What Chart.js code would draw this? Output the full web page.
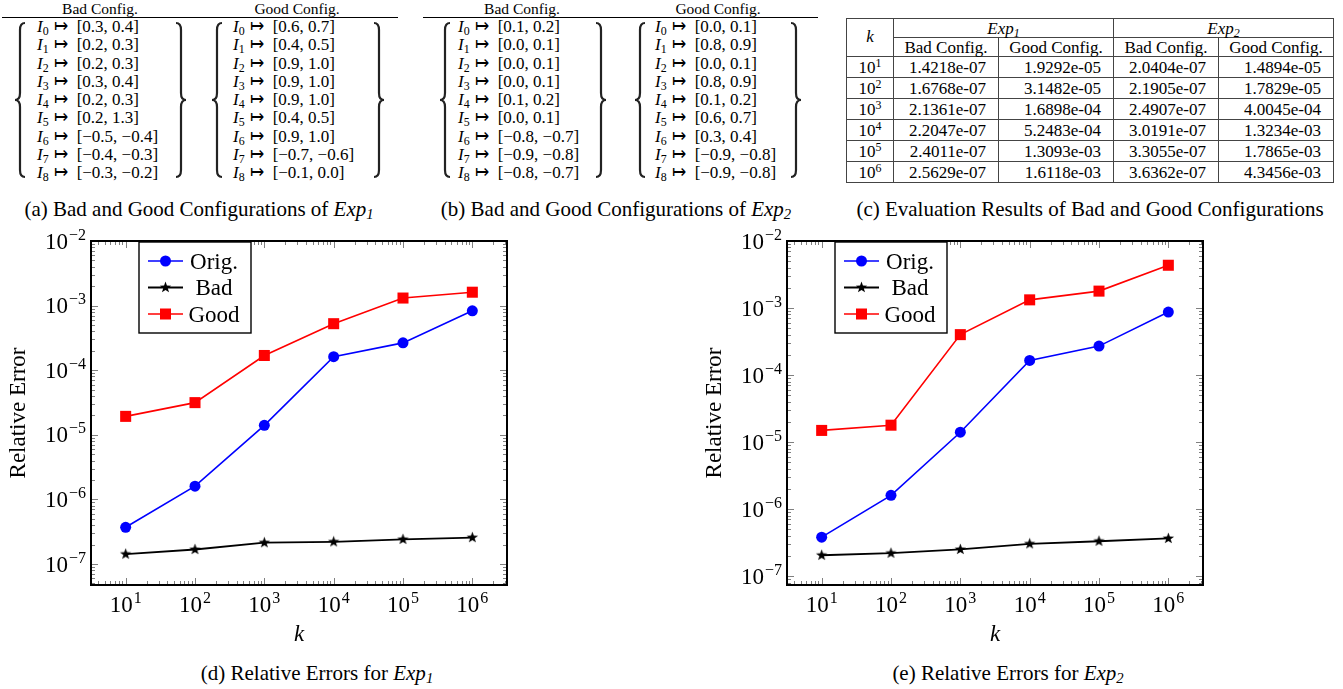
<!DOCTYPE html>
<html>
<head>
<meta charset="utf-8">
<title>Relative errors of bad and good configurations</title>
<script src="https://cdn.jsdelivr.net/npm/chart.js@4.4.1/dist/chart.umd.min.js"></script>
<style>
  html, body { margin: 0; padding: 0; background: #fff; }
  body { position: relative; width: 1343px; height: 689px; overflow: hidden;
         font-family: "Liberation Serif", "Times New Roman", serif; color: #000; }
  .head { position: absolute; top: 0; font-size: 15.5px; line-height: 17px; white-space: nowrap; transform: translateX(-50%); }
  .rule { position: absolute; top: 17px; height: 1px; background: #000; }
  .rows { position: absolute; top: 18px; font-size: 17px; line-height: 18.25px; white-space: nowrap; }
  .rows .to { margin: 0 9px 0 5px; }
  .cap { position: absolute; font-size: 21px; white-space: nowrap; transform: translate(-50%, -50%); }
  sub { font-size: 70%; vertical-align: -0.25em; line-height: 0; }
  sup { font-size: 70%; vertical-align: 0.5em; line-height: 0; }
  svg.braces { position: absolute; left: 0; top: 0; }
  table.res { position: absolute; left: 846px; top: 18px; border-collapse: collapse; table-layout: fixed; font-size: 17px; }
  table.res td { border: 1px solid #444; padding: 0 12px 0 0; text-align: right; line-height: 1; white-space: nowrap; }
  table.res td.c { text-align: center; padding: 0; }
  canvas { position: absolute; }
</style>
</head>
<body>

<div class="head" style="left:100px">Bad Config.</div>
<div class="head" style="left:297px">Good Config.</div>
<div class="rule" style="left:2px;width:396px"></div>
<div class="rows" id="cfg1Bad" style="left:37px"></div>
<div class="rows" id="cfg1Good" style="left:233px"></div>

<div class="head" style="left:522px">Bad Config.</div>
<div class="head" style="left:718px">Good Config.</div>
<div class="rule" style="left:423px;width:395px"></div>
<div class="rows" id="cfg2Bad" style="left:458px"></div>
<div class="rows" id="cfg2Good" style="left:655px"></div>

<svg class="braces" id="braces" width="840" height="190"></svg>

<table class="res" id="resTable">
  <colgroup><col style="width:47px"><col style="width:105px"><col style="width:115px"><col style="width:105px"><col style="width:115px"></colgroup>
</table>

<div class="cap" style="left:199px;top:209px">(a) Bad and Good Configurations of <i>Exp</i><sub><i>1</i></sub></div>
<div class="cap" style="left:616px;top:209px">(b) Bad and Good Configurations of <i>Exp</i><sub><i>2</i></sub></div>
<div class="cap" style="left:1090px;top:209px">(c) Evaluation Results of Bad and Good Configurations</div>

<canvas id="chartExp1" width="540" height="445" style="left:0;top:215px"></canvas>
<canvas id="chartExp2" width="540" height="445" style="left:696px;top:215px"></canvas>

<div class="cap" style="left:317px;top:673px">(d) Relative Errors for <i>Exp</i><sub><i>1</i></sub></div>
<div class="cap" style="left:1008px;top:673px">(e) Relative Errors for <i>Exp</i><sub><i>2</i></sub></div>

<script>
// ── 設定區間 (a)(b) ──
const cfg1Bad  = [[0.3, 0.4], [0.2, 0.3], [0.2, 0.3], [0.3, 0.4], [0.2, 0.3], [0.2, 1.3], [-0.5, -0.4], [-0.4, -0.3], [-0.3, -0.2]];
const cfg1Good = [[0.6, 0.7], [0.4, 0.5], [0.9, 1.0], [0.9, 1.0], [0.9, 1.0], [0.4, 0.5], [0.9, 1.0], [-0.7, -0.6], [-0.1, 0.0]];
const cfg2Bad  = [[0.1, 0.2], [0.0, 0.1], [0.0, 0.1], [0.0, 0.1], [0.1, 0.2], [0.0, 0.1], [-0.8, -0.7], [-0.9, -0.8], [-0.8, -0.7]];
const cfg2Good = [[0.0, 0.1], [0.8, 0.9], [0.0, 0.1], [0.8, 0.9], [0.1, 0.2], [0.6, 0.7], [0.3, 0.4], [-0.9, -0.8], [-0.9, -0.8]];

// ── 相對誤差 (c)(d)(e) ──
const kValues  = [1e1, 1e2, 1e3, 1e4, 1e5, 1e6];
const yTickExp = [-2, -3, -4, -5, -6, -7];
const exp1Orig = [3.7e-7, 1.6e-6, 1.4e-5, 1.62e-4, 2.65e-4, 8.3e-4];
const exp1Bad  = [1.4218e-7, 1.6768e-7, 2.1361e-7, 2.2047e-7, 2.4011e-7, 2.5629e-7];
const exp1Good = [1.9292e-5, 3.1482e-5, 1.6898e-4, 5.2483e-4, 1.3093e-3, 1.6118e-3];
const exp2Orig = [3.8e-7, 1.6e-6, 1.4e-5, 1.65e-4, 2.7e-4, 8.7e-4];
const exp2Bad  = [2.0404e-7, 2.1905e-7, 2.4907e-7, 3.0191e-7, 3.3055e-7, 3.6362e-7];
const exp2Good = [1.4894e-5, 1.7829e-5, 4.0045e-4, 1.3234e-3, 1.7865e-3, 4.3456e-3];

const BLUE = '#0000ff', RED = '#ff0000', BLACK = '#000000';
const SERIF = '"Liberation Serif", "Times New Roman", serif';

const fmtNum = v => (v < 0 ? '\u2212' : '') + Math.abs(v).toFixed(1);
function fmtE(v) {
  const [m, e] = v.toExponential(4).split('e');
  return m + 'e' + e[0] + String(Math.abs(+e)).padStart(2, '0');
}

function renderConfig(id, cfg) {
  document.getElementById(id).innerHTML = cfg
    .map(([lo, hi], i) => `<i>I</i><sub>${i}</sub><span class="to">\u21A6</span>[${fmtNum(lo)}, ${fmtNum(hi)}]`)
    .join('<br>');
}
renderConfig('cfg1Bad', cfg1Bad);
renderConfig('cfg1Good', cfg1Good);
renderConfig('cfg2Bad', cfg2Bad);
renderConfig('cfg2Good', cfg2Good);

// 大括號
function bracePath(x, dir, y0, y1) {
  const w = 10, ym = (y0 + y1) / 2, r = 7;
  const tip = dir > 0 ? x : x + w, end = dir > 0 ? x + w : x, xm = x + w / 2;
  return `M${end},${y0} Q${xm},${y0} ${xm},${y0 + r} L${xm},${ym - r} Q${xm},${ym} ${tip},${ym} ` +
         `Q${xm},${ym} ${xm},${ym + r} L${xm},${y1 - r} Q${xm},${y1} ${end},${y1}`;
}
const braceList = [[15, 1], [176, -1], [212, 1], [374, -1], [440, 1], [596, -1], [635, 1], [791, -1]];
document.getElementById('braces').innerHTML = braceList
  .map(([x, d]) => `<path d="${bracePath(x, d, 23, 177)}" fill="none" stroke="#222" stroke-width="2.2"/>`)
  .join('');

// 表格 (c)
function renderTable() {
  const t = document.getElementById('resTable');
  let html = '<tr style="height:19px"><td class="c" rowspan="2" style="vertical-align:top;padding-top:9px"><i>k</i></td>' +
    '<td class="c" colspan="2"><i>Exp</i><sub><i>1</i></sub></td><td class="c" colspan="2"><i>Exp</i><sub><i>2</i></sub></td></tr>' +
    '<tr style="height:19px"><td class="c">Bad Config.</td><td class="c">Good Config.</td><td class="c">Bad Config.</td><td class="c">Good Config.</td></tr>';
  kValues.forEach((k, i) => {
    html += `<tr style="height:21px"><td class="c">10<sup>${Math.round(Math.log10(k))}</sup></td>` +
      `<td>${fmtE(exp1Bad[i])}</td><td>${fmtE(exp1Good[i])}</td><td>${fmtE(exp2Bad[i])}</td><td>${fmtE(exp2Good[i])}</td></tr>`;
  });
  t.insertAdjacentHTML('beforeend', html);
}
renderTable();

// 星形標記
const starImg = document.createElement('canvas');
starImg.width = 13; starImg.height = 13;
(() => {
  const c = starImg.getContext('2d');
  c.beginPath();
  for (let i = 0; i < 10; i++) {
    const r = i % 2 ? 2.4 : 6, a = -Math.PI / 2 + i * Math.PI / 5;
    c.lineTo(6.5 + r * Math.cos(a), 6.5 + r * Math.sin(a));
  }
  c.closePath();
  c.fillStyle = BLACK;
  c.fill();
})();

function drawPow(ctx, exp, x, y, align) {
  const base = '10', sup = (exp < 0 ? '\u2212' : '') + Math.abs(exp);
  ctx.font = `23px ${SERIF}`;
  const wb = ctx.measureText(base).width;
  ctx.font = `16px ${SERIF}`;
  const ws = ctx.measureText(sup).width;
  const total = wb + ws + 1;
  const x0 = align === 'right' ? x - total : x - total / 2;
  ctx.textAlign = 'left';
  ctx.textBaseline = 'alphabetic';
  ctx.font = `23px ${SERIF}`;
  ctx.fillText(base, x0, y + 7.5);
  ctx.font = `16px ${SERIF}`;
  ctx.fillText(sup, x0 + wb + 1, y - 1.5);
}

function legendMarker(ctx, style, x, y) {
  ctx.fillStyle = style.color;
  if (style.shape === 'circle') {
    ctx.beginPath(); ctx.arc(x, y, 5.5, 0, Math.PI * 2); ctx.fill();
  } else if (style.shape === 'rect') {
    ctx.fillRect(x - 5.5, y - 5.5, 11, 11);
  } else {
    ctx.drawImage(starImg, x - 6.5, y - 6.5);
  }
}

const texAxes = {
  id: 'texAxes',
  beforeDatasetsDraw(chart) {
    const { ctx, chartArea: a, scales: { x, y } } = chart;
    ctx.save();
    ctx.strokeStyle = '#808080';
    ctx.lineWidth = 1;
    ctx.beginPath();
    for (let e = Math.floor(Math.log10(x.min)); e <= Math.ceil(Math.log10(x.max)); e++) {
      for (let m = 1; m < 10; m++) {
        const v = m * Math.pow(10, e);
        if (v < x.min || v > x.max) continue;
        const px = Math.round(x.getPixelForValue(v)) + 0.5, len = m === 1 ? 7 : 4;
        ctx.moveTo(px, a.bottom); ctx.lineTo(px, a.bottom - len);
        ctx.moveTo(px, a.top); ctx.lineTo(px, a.top + len);
      }
    }
    for (let e = Math.floor(Math.log10(y.min)); e <= Math.ceil(Math.log10(y.max)); e++) {
      for (let m = 1; m < 10; m++) {
        const v = m * Math.pow(10, e);
        if (v < y.min * 0.999 || v > y.max * 1.001) continue;
        const py = Math.round(y.getPixelForValue(v)) + 0.5, len = m === 1 ? 7 : 4;
        ctx.moveTo(a.left, py); ctx.lineTo(a.left + len, py);
        ctx.moveTo(a.right, py); ctx.lineTo(a.right - len, py);
      }
    }
    ctx.stroke();
    ctx.strokeStyle = BLACK;
    ctx.lineWidth = 2;
    ctx.strokeRect(a.left, a.top, a.right - a.left, a.bottom - a.top);
    ctx.restore();
  },
  afterDraw(chart) {
    const { ctx, chartArea: a, scales: { x, y } } = chart;
    ctx.save();
    ctx.fillStyle = BLACK;
    yTickExp.forEach(e => drawPow(ctx, e, a.left - 5, y.getPixelForValue(Math.pow(10, e)), 'right'));
    kValues.forEach(k => drawPow(ctx, Math.round(Math.log10(k)), x.getPixelForValue(k), a.bottom + 19, 'center'));

    // 軸標題
    ctx.font = `23px ${SERIF}`;
    ctx.textAlign = 'center';
    ctx.textBaseline = 'alphabetic';
    ctx.save();
    ctx.translate(a.left - 66, (a.top + a.bottom) / 2);
    ctx.rotate(-Math.PI / 2);
    ctx.fillText('Relative Error', 0, 0);
    ctx.restore();
    ctx.font = `italic 23px ${SERIF}`;
    ctx.fillText('k', (a.left + a.right) / 2, a.bottom + 56);

    // 圖例
    const bx = a.left + 48, by = a.top + 1, bw = 112, bh = 91;
    ctx.fillStyle = '#fff';
    ctx.fillRect(bx, by, bw, bh);
    ctx.strokeStyle = BLACK;
    ctx.lineWidth = 1.4;
    ctx.strokeRect(bx, by, bw, bh);
    chart.data.datasets.forEach((ds, i) => {
      const ry = by + 19 + i * 26.5;
      ctx.strokeStyle = ds.borderColor;
      ctx.lineWidth = ds.borderWidth;
      ctx.beginPath(); ctx.moveTo(bx + 9, ry); ctx.lineTo(bx + 44, ry); ctx.stroke();
      legendMarker(ctx, ds.legendStyle, bx + 26.5, ry);
      ctx.fillStyle = BLACK;
      ctx.font = `23px ${SERIF}`;
      ctx.textAlign = 'center';
      ctx.fillText(ds.label, bx + 75, ry + 7.5);
    });
    ctx.restore();
  }
};

function renderErrorChart(canvasId, orig, bad, good, yMin) {
  const canvas = document.getElementById(canvasId);
  const pts = arr => kValues.map((k, i) => ({ x: k, y: arr[i] }));
  new Chart(canvas, {
    type: 'line',
    data: {
      datasets: [
        { label: 'Orig.', data: pts(orig), borderColor: BLUE, backgroundColor: BLUE, borderWidth: 1.6,
          pointStyle: 'circle', pointRadius: 5.5, pointBorderWidth: 0, legendStyle: { shape: 'circle', color: BLUE } },
        { label: 'Bad', data: pts(bad), borderColor: BLACK, backgroundColor: BLACK, borderWidth: 1.8,
          pointStyle: starImg, pointRadius: 5, legendStyle: { shape: 'star', color: BLACK } },
        { label: 'Good', data: pts(good), borderColor: RED, backgroundColor: RED, borderWidth: 1.6,
          pointStyle: 'rect', pointRadius: 7.8, pointBorderWidth: 0, legendStyle: { shape: 'rect', color: RED } },
      ]
    },
    options: {
      responsive: false,
      animation: false,
      devicePixelRatio: 1,
      layout: { padding: { left: 91, top: 26, right: 33, bottom: 75 } },
      elements: { line: { tension: 0 } },
      scales: {
        x: { type: 'logarithmic', display: false, min: Math.pow(10, 0.5), max: Math.pow(10, 6.5) },
        y: { type: 'logarithmic', display: false, min: yMin, max: 1e-2 },
      },
      plugins: { legend: { display: false }, tooltip: { enabled: false } }
    },
    plugins: [texAxes]
  });
}

renderErrorChart('chartExp1', exp1Orig, exp1Bad, exp1Good, Math.pow(10, -7.325));
renderErrorChart('chartExp2', exp2Orig, exp2Bad, exp2Good, Math.pow(10, -7.134));
</script>
</body>
</html>
